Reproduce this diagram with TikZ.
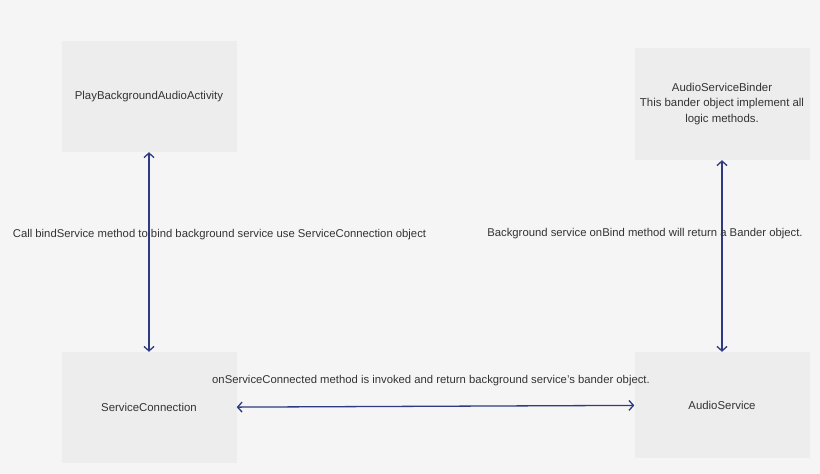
\documentclass[tikz,border=0pt]{standalone}
\usepackage{fontspec}
\setmainfont{Liberation Sans}
\usepackage{tikz}
\usetikzlibrary{positioning}
\usetikzlibrary{arrows.meta}

\definecolor{bgcol}{HTML}{F5F5F5}
\definecolor{boxcol}{HTML}{EDEDED}
\definecolor{linkcol}{HTML}{2E3B82}
\definecolor{txtcol}{HTML}{333333}

\tikzset{
    block/.style = {draw = none, fill = boxcol, text = txtcol, minimum width = 175pt, align = center, font = \fontsize{11.4}{15.5}\selectfont},
    link/.style = {draw = linkcol, line width = 1.3pt, {Straight Barb[length=4.5pt,width=10pt]}-{Straight Barb[length=4.5pt,width=10pt]}},
    note/.style = {draw = none, text = txtcol, font = \fontsize{11.3}{13}\selectfont}
}

\begin{document}
\begin{tikzpicture}[x = 1pt, y = -1pt]
    \fill[bgcol] (0,0) rectangle (820,474) ;
    \useasboundingbox (0,0) rectangle (820,474) ;

    \node[block, minimum height = 111pt] at (149,96.5) (activity) {PlayBackgroundAudioActivity} ;
    \node[block, minimum height = 112pt] at (722,104) (binder) {AudioServiceBinder\\This bander object implement all\\logic methods.} ;
    \node[block, minimum height = 111pt] at (149,407.5) (connection) {ServiceConnection} ;
    \node[block, minimum height = 106pt] at (722,405) (service) {AudioService} ;

    \draw[link] (activity) -- (connection) ;
    \draw[link] (binder) -- (service) ;
    \draw[link] (connection) -- (service) ;

    \node[note] at (219.5,235) (bindnote) {Call bindService method to bind background service use ServiceConnection object} ;
    \node[note] at (645,234) (returnnote) {Background service onBind method will return a Bander object.} ;
    \node[note] at (431,381) (connectnote) {onServiceConnected method is invoked and return background service's bander object.} ;
\end{tikzpicture}
\end{document}
